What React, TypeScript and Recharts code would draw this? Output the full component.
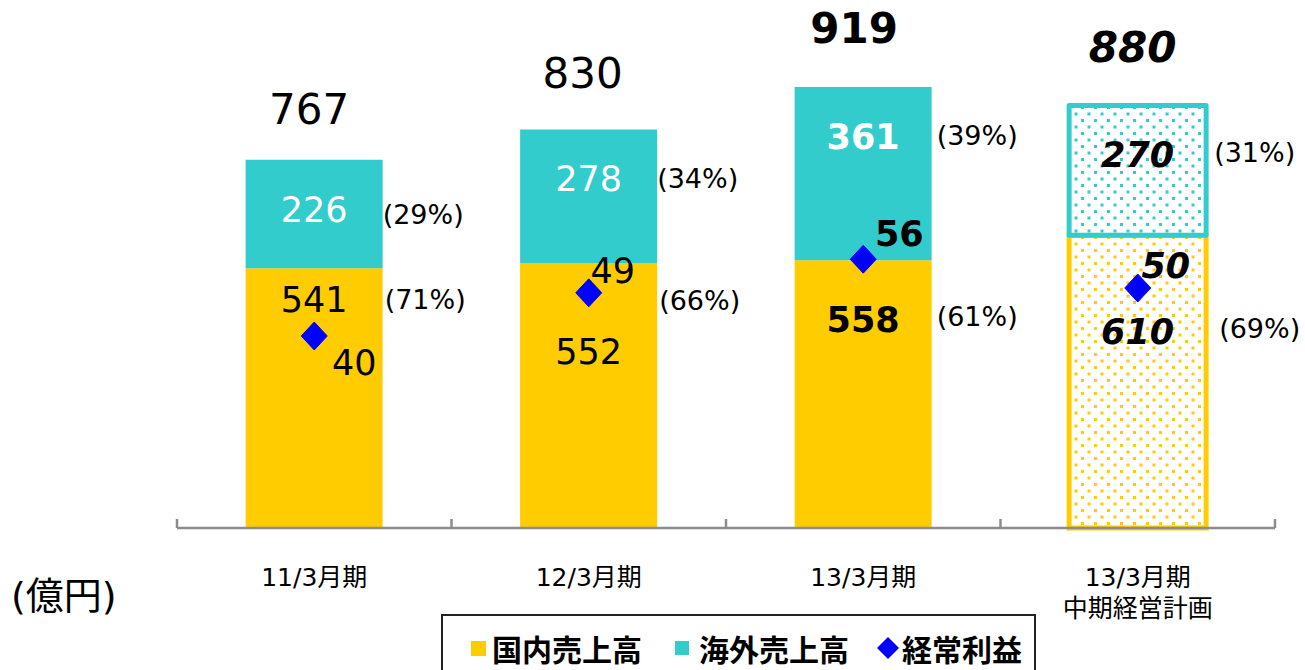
import React from "react";
import { ComposedChart, Bar, Line, XAxis, YAxis, Cell, LabelList } from "recharts";

const periods = ["11/3月期", "12/3月期", "13/3月期", "13/3月期\n中期経営計画"];
const domesticSales = [541, 552, 558, 610];
const overseasSales = [226, 278, 361, 270];
const totalSales = [767, 830, 919, 880];
const ordinaryProfit = [40, 49, 56, 50];
const domesticShare = ["(71%)", "(66%)", "(61%)", "(69%)"];
const overseasShare = ["(29%)", "(34%)", "(39%)", "(31%)"];
const legendNames = ["国内売上高", "海外売上高", "経常利益"];
const unitLabel = "(億円)";

const W = 1305;
const H = 670;
const MARGIN = { top: 48, right: 30, bottom: 82, left: 177 };
const HALF_BAND = (W - MARGIN.left - MARGIN.right) / periods.length / 2;

const YELLOW = "#FFCC00";
const TEAL = "#33CCCC";
const BLUE = "#0000FF";
const AXIS = "#8C8C8C";
const FONT = "'DejaVu Sans', 'Noto Sans CJK JP', sans-serif";

// weight / slant of the numbers per period (plan column is bold italic)
const NUM_STYLE = [
  { fontWeight: 400, fontStyle: "normal" },
  { fontWeight: 400, fontStyle: "normal" },
  { fontWeight: 700, fontStyle: "normal" },
  { fontWeight: 700, fontStyle: "italic" },
];

// hand placed label offsets (relative to segment top / bar right / marker)
const DOM_VALUE_DY = [32, 89, 60, 97];
const DOM_PCT_DY = [31, 37, 56, 93];
const DOM_PCT_DX = [2, 2, 5, 13];
const DOM_COLOR = ["#000", "#000", "#000", "#000"];
const OVS_VALUE_DY = [50, 49, 50, 49];
const OVS_PCT_DY = [55, 49, 49, 47];
const OVS_PCT_DX = [0, 0, 5, 8];
const OVS_COLOR = ["#fff", "#fff", "#fff", "#000"];
const TOTAL_DX = [-5, -6, -9, -5];
const TOTAL_DY = [-50, -56, -58, -58];
const PROFIT_DX = [40, 24, 36, 28];
const PROFIT_DY = [27, -22, -25, -22];

const rows = periods.map((p, i) => ({
  period: p,
  domestic: domesticSales[i],
  overseas: overseasSales[i],
  total: totalSales[i],
  profit: ordinaryProfit[i],
}));

function box(props: any) {
  const vb = props.viewBox ?? {};
  return {
    x: Number(props.x ?? vb.x),
    y: Number(props.y ?? vb.y),
    width: Number(props.width ?? vb.width),
    height: Number(props.height ?? vb.height),
  };
}

function segmentLabels(valueDy: number[], shares: string[], pctDx: number[], pctDy: number[], colors: string[]) {
  return (props: any) => {
    const { x, y, width } = box(props);
    const i = props.index;
    return (
      <g key={`seg-${i}`}>
        <text
          x={x + width / 2}
          y={y + valueDy[i]}
          textAnchor="middle"
          dominantBaseline="central"
          fontFamily={FONT}
          fontSize={35}
          fill={colors[i]}
          style={NUM_STYLE[i] as any}
        >
          {props.value}
        </text>
        <text
          x={x + width + pctDx[i]}
          y={y + pctDy[i]}
          dominantBaseline="central"
          fontFamily={FONT}
          fontSize={27}
          fill="#000"
        >
          {shares[i]}
        </text>
      </g>
    );
  };
}

function totalLabel(props: any) {
  const { x, y, width } = box(props);
  const i = props.index;
  return (
    <text
      key={`tot-${i}`}
      x={x + width / 2 + TOTAL_DX[i]}
      y={y + TOTAL_DY[i]}
      textAnchor="middle"
      dominantBaseline="central"
      fontFamily={FONT}
      fontSize={42}
      fill="#000"
      style={NUM_STYLE[i] as any}
    >
      {props.value}
    </text>
  );
}

function DiamondDot(props: any) {
  const { cx, cy, index, value } = props;
  if (cx == null || cy == null) return <g key={`d-${index}`} />;
  const rx = 13;
  const ry = 14;
  return (
    <g key={`d-${index}`}>
      <polygon
        points={`${cx},${cy - ry} ${cx + rx},${cy} ${cx},${cy + ry} ${cx - rx},${cy}`}
        fill={BLUE}
        stroke={BLUE}
        strokeWidth={1}
        strokeLinejoin="round"
      />
      <text
        x={cx + PROFIT_DX[index]}
        y={cy + PROFIT_DY[index]}
        textAnchor="middle"
        dominantBaseline="central"
        fontFamily={FONT}
        fontSize={35}
        fill="#000"
        style={NUM_STYLE[index] as any}
      >
        {value}
      </text>
    </g>
  );
}

function PeriodTick(props: any) {
  const { x, y, payload, index } = props;
  const lines = String(payload.value).split("\n");
  return (
    <g>
      <line x1={x - HALF_BAND} x2={x - HALF_BAND} y1={y} y2={y - 9} stroke={AXIS} strokeWidth={2.5} />
      {index === periods.length - 1 && (
        <line x1={x + HALF_BAND} x2={x + HALF_BAND} y1={y} y2={y - 9} stroke={AXIS} strokeWidth={2.5} />
      )}
      <text x={x} y={y + 49} textAnchor="middle" fontFamily={FONT} fontSize={25} fill="#000">
        {lines.map((l, k) => (
          <tspan key={k} x={x} dy={k === 0 ? 0 : 31} dominantBaseline="central">
            {l}
          </tspan>
        ))}
      </text>
    </g>
  );
}

function LegendBox() {
  const marks = [
    <div style={{ width: 15, height: 15, background: YELLOW }} />,
    <div style={{ width: 14, height: 14, background: TEAL }} />,
    <svg width={22} height={22}>
      <polygon points="11,0 22,11 11,22 0,11" fill={BLUE} />
    </svg>,
  ];
  const gaps = [6, 10, 3];
  const after = [33, 28, 0];
  return (
    <div
      style={{
        position: "absolute",
        left: 441,
        top: 614,
        width: 595,
        height: 70,
        border: "2.5px solid #222",
        display: "flex",
        alignItems: "center",
        paddingLeft: 28,
        paddingBottom: 2,
        boxSizing: "border-box",
        background: "#fff",
      }}
    >
      {legendNames.map((n, i) => (
        <div key={n} style={{ display: "flex", alignItems: "center", marginRight: after[i] }}>
          {marks[i]}
          <span
            style={{
              marginLeft: gaps[i],
              fontFamily: "'Noto Sans CJK JP', sans-serif",
              fontWeight: 700,
              fontSize: 30,
              lineHeight: "28px",
              color: "#000",
            }}
          >
            {n}
          </span>
        </div>
      ))}
    </div>
  );
}

export default function App() {
  return (
    <div style={{ position: "absolute", left: 0, top: 0, width: W, height: H, background: "#fff", overflow: "hidden" }}>
      <svg width={0} height={0} style={{ position: "absolute" }}>
        <defs>
          <pattern id="dotsYellow" width={13} height={13} patternUnits="userSpaceOnUse">
            <rect x={0} y={0} width={13} height={13} fill="#fff" />
            <rect x={2} y={2} width={3} height={3} fill={YELLOW} />
            <rect x={8.5} y={8.5} width={3} height={3} fill={YELLOW} />
          </pattern>
          <pattern id="dotsTeal" width={13} height={13} patternUnits="userSpaceOnUse">
            <rect x={0} y={0} width={13} height={13} fill="#fff" />
            <rect x={2} y={2} width={3} height={3} fill={TEAL} />
            <rect x={8.5} y={8.5} width={3} height={3} fill={TEAL} />
          </pattern>
        </defs>
      </svg>
      <ComposedChart width={W} height={H} data={rows} margin={MARGIN} barCategoryGap="25%">
        <XAxis
          dataKey="period"
          height={60}
          axisLine={{ stroke: AXIS, strokeWidth: 2.5 }}
          tickLine={false}
          tickSize={0}
          tickMargin={0}
          interval={0}
          tick={<PeriodTick />}
        />
        <YAxis yAxisId="left" hide domain={[0, 1000]} />
        <YAxis yAxisId="right" hide orientation="right" domain={[0, 100]} />
        <Bar dataKey="domestic" stackId="s" yAxisId="left" isAnimationActive={false}>
          {rows.map((_, i) => (
            <Cell
              key={i}
              fill={i === 3 ? "url(#dotsYellow)" : YELLOW}
              stroke={i === 3 ? YELLOW : "none"}
              strokeWidth={i === 3 ? 5 : 0}
            />
          ))}
          <LabelList
            dataKey="domestic"
            content={segmentLabels(DOM_VALUE_DY, domesticShare, DOM_PCT_DX, DOM_PCT_DY, DOM_COLOR)}
          />
        </Bar>
        <Bar dataKey="overseas" stackId="s" yAxisId="left" isAnimationActive={false}>
          {rows.map((_, i) => (
            <Cell
              key={i}
              fill={i === 3 ? "url(#dotsTeal)" : TEAL}
              stroke={i === 3 ? TEAL : "none"}
              strokeWidth={i === 3 ? 5 : 0}
              strokeLinejoin="round"
            />
          ))}
          <LabelList
            dataKey="overseas"
            content={segmentLabels(OVS_VALUE_DY, overseasShare, OVS_PCT_DX, OVS_PCT_DY, OVS_COLOR)}
          />
          <LabelList dataKey="total" content={totalLabel} />
        </Bar>
        <Line
          dataKey="profit"
          yAxisId="right"
          stroke="none"
          isAnimationActive={false}
          dot={(p: any) => <DiamondDot key={`dot-${p.index}`} {...p} />}
          activeDot={false}
        />
      </ComposedChart>
      <div
        style={{
          position: "absolute",
          left: 11,
          top: 574,
          height: 44,
          lineHeight: "44px",
          fontFamily: FONT,
          fontSize: 38,
          color: "#000",
        }}
      >
        {unitLabel}
      </div>
      <LegendBox />
    </div>
  );
}
